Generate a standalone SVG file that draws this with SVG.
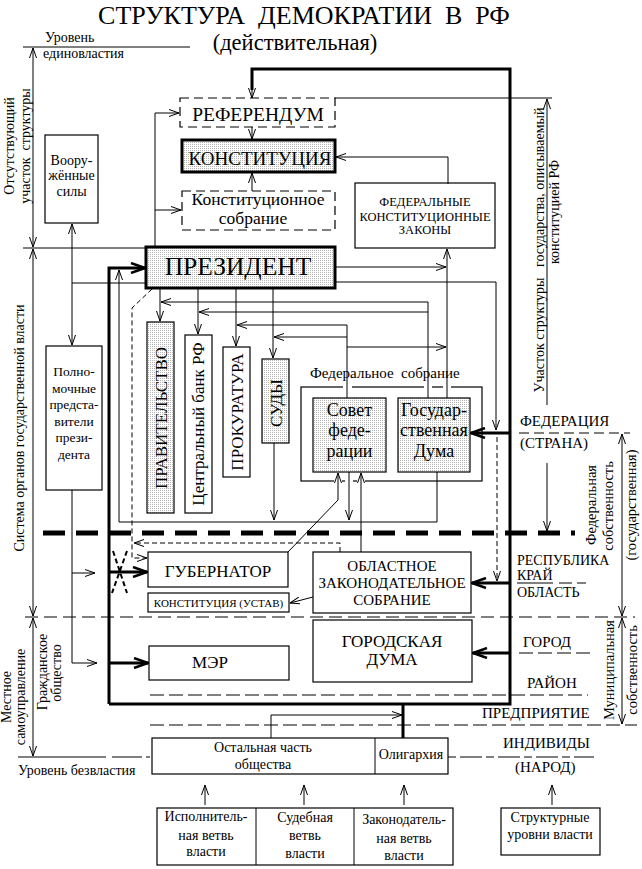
<svg xmlns="http://www.w3.org/2000/svg" width="642" height="869" viewBox="0 0 642 869">
<style>
text{font-family:"Liberation Serif","Times New Roman",serif;fill:#000}
.c{text-anchor:middle}
.b{fill:#fff;stroke:#000;stroke-width:1.2}
.s{fill:url(#dots);stroke:#000;stroke-width:1.2}
.k{stroke-width:3}
.d{fill:#fff;stroke:#000;stroke-width:1.2;stroke-dasharray:9,5}
.n{fill:none;stroke:#000;stroke-width:1.2}
.l{fill:none;stroke:#000;stroke-width:1}
.L{fill:none;stroke:#000;stroke-width:3}
.dl{fill:none;stroke:#000;stroke-width:1;stroke-dasharray:13,6}
.ds{fill:none;stroke:#000;stroke-width:1;stroke-dasharray:5,3}
.ar{marker-end:url(#a)}
.bi{marker-start:url(#a);marker-end:url(#a)}
.AR{marker-end:url(#A)}
.wg{stroke:#fff;stroke-width:3}
</style>
<defs>
<pattern id="dots" width="2" height="2" patternUnits="userSpaceOnUse"><rect width="2" height="2" fill="#fff"/><rect width="1" height="1" fill="#b4b4b4"/></pattern>
<marker id="a" viewBox="0 0 10 8" refX="10" refY="4" markerWidth="10" markerHeight="8" markerUnits="userSpaceOnUse" orient="auto-start-reverse"><path d="M0,0.5 L10,4 L0,7.5" fill="none" stroke="#000" stroke-width="1"/></marker>
<marker id="A" viewBox="0 0 16 12" refX="15" refY="6" markerWidth="16" markerHeight="12" markerUnits="userSpaceOnUse" orient="auto"><path d="M1,1 L15,6 L1,11" fill="none" stroke="#000" stroke-width="2.5"/></marker>
</defs>
<rect width="642" height="869" fill="#fff"/>

<g id="title">
<text class="c" x="304" y="24" font-size="26" xml:space="preserve">СТРУКТУРА  ДЕМОКРАТИИ  В  РФ</text>
<text class="c" x="295" y="50" font-size="22.5">(действительная)</text>
</g>

<g id="levels" font-size="14">
<text x="45" y="42">Уровень</text>
<text x="43" y="58">единовластия</text>
<text transform="translate(14,146) rotate(-90)" class="c">Отсутствующий</text>
<text transform="translate(30,146) rotate(-90)" class="c" xml:space="preserve">участок  структуры</text>
<text transform="translate(24,428) rotate(-90)" class="c">Система органов государственной власти</text>
<text transform="translate(11,697) rotate(-90)" class="c">Местное</text>
<text transform="translate(25,697) rotate(-90)" class="c">самоуправление</text>
<text transform="translate(47,672) rotate(-90)" class="c">Гражданское</text>
<text transform="translate(61,673) rotate(-90)" class="c">общество</text>
<text x="18" y="775">Уровень безвластия</text>
<text transform="translate(544,250) rotate(-90)" class="c" xml:space="preserve">Участок структуры   государства, описываемый</text>
<text transform="translate(559,212) rotate(-90)" class="c">конституцией РФ</text>
<text transform="translate(596,505) rotate(-90)" class="c" font-size="14.5">Федеральная</text>
<text transform="translate(613,506) rotate(-90)" class="c" font-size="14.5">собственность</text>
<text transform="translate(636,505) rotate(-90)" class="c" font-size="14.5">(государственная)</text>
<text transform="translate(614,670) rotate(-90)" class="c" font-size="14.5">Муниципальная</text>
<text transform="translate(637,670) rotate(-90)" class="c" font-size="14.5">собственность</text>
<text x="520" y="426" font-size="15">ФЕДЕРАЦИЯ</text>
<text x="520" y="448" font-size="15">(СТРАНА)</text>
<text x="517" y="565">РЕСПУБЛИКА</text>
<text x="517" y="580">КРАЙ</text>
<text x="517" y="597">ОБЛАСТЬ</text>
<text x="523" y="647" font-size="15">ГОРОД</text>
<text x="527" y="688" font-size="15">РАЙОН</text>
<text x="482" y="718" font-size="15">ПРЕДПРИЯТИЕ</text>
<text x="503" y="748" font-size="15">ИНДИВИДЫ</text>
<text x="515" y="772" font-size="15">(НАРОД)</text>
</g>

<g id="level-lines">
<path class="l" d="M23,47 H190"/>
<path class="l" d="M23,248 H146"/>
<path class="l" d="M335,98 H552"/>
<path class="l bi" d="M33,48 V247"/>
<path class="l bi" d="M33,249 V616"/>
<path class="l bi" d="M33,618 V756"/>
<path class="l ar" d="M547,405 V99"/>
<path class="l ar" d="M547,463 V531"/>
<path class="l bi" d="M622,434 V616"/>
<path class="l bi" d="M622,618 V724"/>
<path fill="none" stroke="#000" stroke-width="5" stroke-dasharray="22,11" d="M43,533 H575"/>
<path class="dl" d="M25,617 H635"/>
<path fill="none" stroke="#000" stroke-dasharray="14,5" d="M150,695 H588"/>
<path fill="none" stroke="#000" stroke-dasharray="14,5" d="M150,725 H637"/>
<path fill="none" stroke="#000" stroke-dasharray="88,6,30,4" d="M18,757 H150"/>
<path fill="none" stroke="#000" stroke-dasharray="8,4,22,4" d="M448,757 H594"/>
<path fill="none" stroke="#000" stroke-dasharray="10,5" d="M519,433 H630"/>
<path fill="none" stroke="#000" stroke-dasharray="36,6,13,5,9,5" d="M517,583 H588"/>
<path fill="none" stroke="#000" stroke-dasharray="14,5" d="M519,653 H591"/>
</g>

<g id="referendum"><rect class="d" x="180" y="98" width="155" height="29"/><text class="c" x="258" y="121" font-size="19.5">РЕФЕРЕНДУМ</text></g>
<g id="constitution"><rect class="s k" x="182" y="140" width="153" height="32"/><text class="c" x="260" y="165" font-size="19">КОНСТИТУЦИЯ</text></g>
<g id="const-assembly"><rect class="d" x="182" y="191" width="153" height="39"/><text class="c" x="258" y="205" font-size="17.5">Конституционное</text><text class="c" x="253" y="224" font-size="17.5">собрание</text></g>
<g id="fkz"><rect class="b" x="355" y="183" width="140" height="65"/><text class="c" x="425" y="206" font-size="12.5">ФЕДЕРАЛЬНЫЕ</text><text class="c" x="425" y="221" font-size="12.5">КОНСТИТУЦИОННЫЕ</text><text class="c" x="425" y="234" font-size="12.5">ЗАКОНЫ</text></g>
<g id="army"><rect class="b" x="45" y="135" width="53" height="88"/><text class="c" x="71.5" y="165" font-size="14">Воору-</text><text class="c" x="71.5" y="180" font-size="14">жённые</text><text class="c" x="71.5" y="196" font-size="14">силы</text></g>
<g id="envoys" font-size="13.5"><rect class="b" x="46" y="346" width="56" height="144"/><text class="c" x="74" y="376">Полно-</text><text class="c" x="74" y="392.6">мочные</text><text class="c" x="74" y="409">предста-</text><text class="c" x="74" y="425.8">вители</text><text class="c" x="74" y="442.4">прези-</text><text class="c" x="74" y="459">дента</text></g>
<g id="president"><rect class="s k" x="146" y="247" width="189" height="41"/><text class="c" x="238" y="275" font-size="25.5">ПРЕЗИДЕНТ</text></g>
<g id="government"><rect class="s" x="147" y="322" width="27" height="191"/><text class="c" transform="translate(166.5,418) rotate(-90)" font-size="17">ПРАВИТЕЛЬСТВО</text></g>
<g id="central-bank"><rect class="b" x="185" y="335" width="27" height="178"/><text class="c" transform="translate(204,424) rotate(-90)" font-size="17">Центральный банк РФ</text></g>
<g id="prosecutor"><rect class="b" x="223" y="347" width="27" height="130"/><text class="c" transform="translate(242.5,412) rotate(-90)" font-size="17">ПРОКУРАТУРА</text></g>
<g id="courts"><rect class="s" x="262" y="359" width="27" height="84"/><text class="c" transform="translate(281.5,403) rotate(-90)" font-size="17">СУДЫ</text></g>
<g id="federal-assembly"><rect class="n" x="301" y="387" width="181" height="94"/><text x="310" y="378" font-size="15" xml:space="preserve">Федеральное  собрание</text>
<path class="wg" d="M343,387 H352 M424,387 H432 M443,387 H451 M334,481 H342 M345,481 H353 M357,481 H365"/></g>
<g id="federation-council"><rect class="s" x="313" y="398" width="73" height="74"/><text class="c" x="349.5" y="416" font-size="18">Совет</text><text class="c" x="349.5" y="436" font-size="18">феде-</text><text class="c" x="349.5" y="457" font-size="18">рации</text></g>
<g id="state-duma"><rect class="s" x="398" y="398" width="72" height="74"/><text class="c" x="434" y="416" font-size="18">Государ-</text><text class="c" x="434" y="436" font-size="18">ственная</text><text class="c" x="434" y="457" font-size="18">Дума</text></g>
<g id="governor"><rect class="b" x="148" y="552" width="140" height="35"/><text class="c" x="218" y="577" font-size="17">ГУБЕРНАТОР</text></g>
<g id="regional-constitution"><rect class="b" x="148" y="593" width="141" height="19"/><text class="c" x="218.5" y="606.5" font-size="11">КОНСТИТУЦИЯ (УСТАВ)</text></g>
<g id="regional-assembly" font-size="15"><rect class="b" x="313" y="552" width="158" height="61"/><text class="c" x="392" y="571">ОБЛАСТНОЕ</text><text class="c" x="392" y="588">ЗАКОНОДАТЕЛЬНОЕ</text><text class="c" x="392" y="605">СОБРАНИЕ</text></g>
<g id="city-duma" font-size="17"><rect class="b" x="313" y="620" width="159" height="62"/><text class="c" x="392" y="647">ГОРОДСКАЯ</text><text class="c" x="392" y="665">ДУМА</text></g>
<g id="mayor"><rect class="b" x="149" y="646" width="140" height="34"/><text class="c" x="210" y="668" font-size="17">МЭР</text></g>
<g id="society" font-size="14"><rect class="b" x="152" y="738" width="296" height="36"/><path class="l" d="M375,738 V774"/><text class="c" x="263" y="752">Остальная часть</text><text class="c" x="263" y="769">общества</text><text class="c" x="411" y="759">Олигархия</text></g>
<g id="branches" font-size="14"><rect class="b" x="157" y="808" width="296" height="57"/><path class="l" d="M256,808 V865 M354,808 V865"/>
<text class="c" x="206" y="821">Исполнитель-</text><text class="c" x="206" y="840">ная ветвь</text><text class="c" x="206" y="856">власти</text>
<text class="c" x="305" y="822">Судебная</text><text class="c" x="305" y="840">ветвь</text><text class="c" x="305" y="858">власти</text>
<text class="c" x="404" y="824">Законодатель-</text><text class="c" x="404" y="843">ная ветвь</text><text class="c" x="404" y="860">власти</text></g>
<g id="structural-levels" font-size="14"><rect class="b" x="501" y="808" width="99" height="47"/><text class="c" x="550" y="822">Структурные</text><text class="c" x="550" y="839">уровни власти</text></g>

<g id="connectors">
<path class="L" d="M403,738 V704"/>
<path class="L" d="M109,704 H510 V69 H252 V90"/>
<path class="l ar" d="M252,86 V98"/>
<path class="L AR" d="M109,704 V268 H145"/>
<path class="L AR" d="M510,433 H471"/>
<path class="L AR" d="M510,583 H472"/>
<path class="L AR" d="M510,653 H473"/>
<path class="L AR" d="M109,572 H147"/>
<path class="L AR" d="M109,663 H148"/>
<path class="l ar" d="M155,247 V113 H179"/>
<path class="l ar" d="M155,210 H181"/>
<path class="l ar" d="M252,127 V139"/>
<path class="l ar" d="M252,191 V173"/>
<path class="l ar" d="M448,184 V157 H336"/>
<path class="l ar" d="M146,283 H72 V224"/>
<path class="l ar" d="M72,283 V345"/>
<path class="l ar" d="M335,267 H446"/>
<path class="l ar" d="M335,282 H496 V430"/>
<path class="l ar" d="M447,398 V249"/>
<path class="l ar" d="M428,398 V302 H161"/>
<path class="l ar" d="M428,312 H199"/>
<path class="l ar" d="M347,398 V325 H237"/>
<path class="l ar" d="M347,337 H274"/>
<path class="l ar" d="M347,347 H446"/>
<path class="l ar" d="M160,288 V321"/>
<path class="l ar" d="M198,288 V334"/>
<path class="l ar" d="M236,288 V346"/>
<path class="l ar" d="M273,288 V358"/>
<path class="l ar" d="M274,443 V520"/>
<path class="l ar" d="M349,472 V520"/>
<path class="l ar" d="M437,472 V522 H119 V270"/>
<path class="l ar" d="M288,552 L338,500 V473"/>
<path class="l ar" d="M361,552 V473"/>
<path class="l ar" d="M313,597 L290,603"/>
<path class="l ar" d="M72,490 V663 H97"/>
<path class="l ar" d="M72,573 H95"/>
<path class="l ar" d="M271,738 V715 H402"/>
<path class="ds ar" d="M152,289 L132,308 V558 H147"/>
<path class="ds ar" d="M340,552 V543 H134"/>
<path class="ds ar" d="M497,437 V581"/>
<path fill="none" stroke="#000" stroke-width="2" stroke-dasharray="5,3" d="M113,551 L127,593 M127,551 L112,593"/>
<path class="l ar" d="M205,805 V785"/>
<path class="l ar" d="M304,805 V785"/>
<path class="l ar" d="M404,805 V785"/>
<path class="l ar" d="M552,805 V785"/>
</g>
</svg>
